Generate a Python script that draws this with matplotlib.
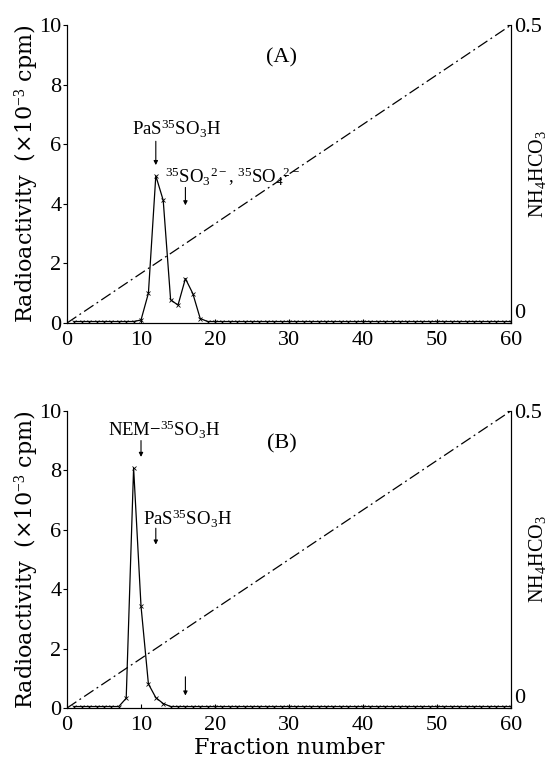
import numpy as np
import matplotlib
matplotlib.use("Agg")
import matplotlib.pyplot as plt

plt.rcParams["font.family"] = ["Liberation Serif", "DejaVu Serif"]
plt.rcParams["mathtext.fontset"] = "custom"
plt.rcParams["mathtext.rm"] = "Liberation Serif"
plt.rcParams["mathtext.it"] = "Liberation Serif:italic"

# Fraction numbers
fractions = list(range(1, 61))

# Panel A radioactivity (x10^-3 cpm)
act_a = ([0.05] * 9
         + [0.1, 1.0, 4.94, 4.12, 0.78, 0.6, 1.49, 0.99, 0.15]
         + [0.05] * 42)

# Panel B radioactivity (x10^-3 cpm)
act_b = ([0.05] * 7
         + [0.33, 8.08, 3.43, 0.81, 0.35, 0.15]
         + [0.05] * 47)

# NH4HCO3 linear gradient (M)
grad_frac = [0, 60]
grad_conc = [0.0, 0.5]

LABEL_FONT = ["DejaVu Serif"]

fig = plt.figure(figsize=(5.47, 7.60), dpi=100)
ax_a = fig.add_axes([0.1225, 0.575, 0.8117, 0.392])
ax_b = fig.add_axes([0.1225, 0.0684, 0.8117, 0.391])


def draw_panel(ax, act, tag, notes, arrows):
    ax.plot(fractions, act, color="k", lw=0.9, marker="x", ms=2.5, mew=0.6)
    ax.set_xlim(0, 60)
    ax.set_ylim(0, 10)
    ax.set_xticks(range(0, 61, 10))
    ax.set_yticks(range(0, 11, 2))
    ax.tick_params(direction="in", length=3, labelsize=16, pad=6)
    ax.tick_params(axis="y", direction="out", length=3, pad=1)
    ax.spines["top"].set_visible(False)
    ax.set_ylabel(r"Radioactivity  (×10$^{-3}$ cpm)", fontsize=16,
                  family=LABEL_FONT, labelpad=0)

    ax2 = ax.twinx()
    ax2.plot(grad_frac, grad_conc, color="k", lw=0.9, ls=(0, (9, 3, 1.5, 3)))
    ax2.set_ylim(0, 0.5)
    ax2.set_yticks([0, 0.5])
    ax2.set_yticklabels(["0", "0.5"])
    ax2.tick_params(direction="in", length=3, labelsize=16, pad=2)
    # lift the right-hand "0" so it clears the "60" below it
    ax2.yaxis.get_major_ticks()[0].label2.set_va("bottom")
    ax2.spines["top"].set_visible(False)
    ax2.set_ylabel(r"NH$_4$HCO$_3$", fontsize=14.5)
    ax2.yaxis.set_label_coords(1.035, 0.5)

    ax.text(29, 8.9, tag, fontsize=16, ha="center", va="center")
    for x, y, s in notes:
        ax.text(x, y, s, fontsize=13.5, ha="left", va="center")
    for x, y0, y1 in arrows:
        ax.annotate("", xy=(x, y1), xytext=(x, y0),
                    arrowprops=dict(arrowstyle="-|>", lw=0.8, color="k",
                                    mutation_scale=6, shrinkA=0, shrinkB=0))


draw_panel(ax_a, act_a, "(A)",
           [(8.8, 6.5, r"PaS$^{35}$SO$_3$H"),
            (13.3, 4.9, r"$^{35}$SO$_3$$^{2-}$, $^{35}$SO$_4$$^{2-}$")],
           [(12, 6.1, 5.3), (16, 4.55, 3.95)])

draw_panel(ax_b, act_b, "(B)",
           [(5.6, 9.35, r"NEM−$^{35}$SO$_3$H"),
            (10.3, 6.35, r"PaS$^{35}$SO$_3$H")],
           [(10, 9.0, 8.45), (12, 6.05, 5.5), (16, 1.05, 0.42)])

ax_b.set_xlabel("Fraction number", fontsize=16, family=LABEL_FONT, labelpad=1)

fig.savefig("out.png", dpi=100)
